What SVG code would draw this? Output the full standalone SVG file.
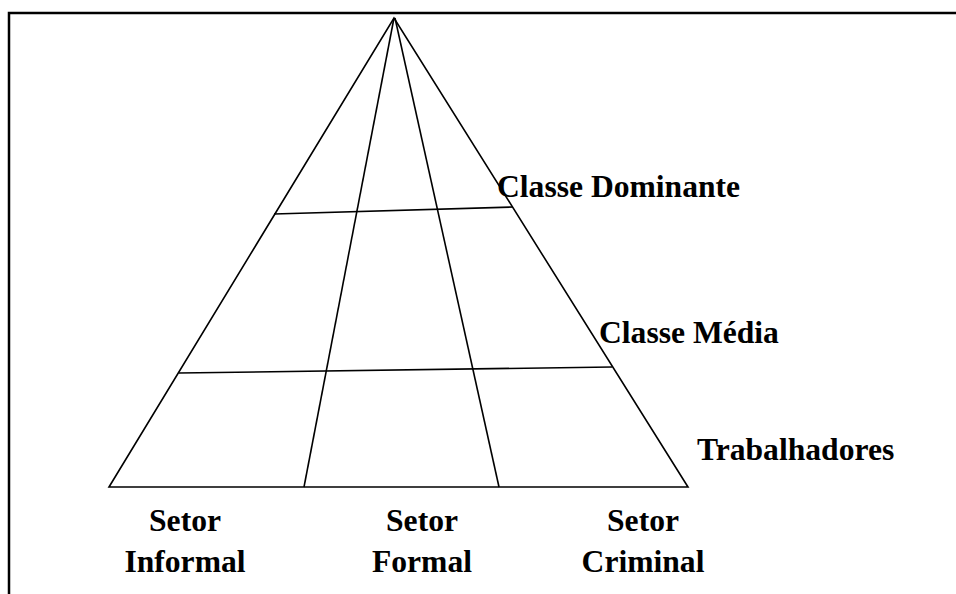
<svg xmlns="http://www.w3.org/2000/svg" width="956" height="594" viewBox="0 0 956 594">
<style>
.ln{stroke:#000;stroke-width:1.6;fill:none}
.t{font-family:"Liberation Serif","Times New Roman",serif;font-weight:bold;font-size:31.6px;fill:#000}
.c{text-anchor:middle}
</style>
<rect width="956" height="594" fill="#fff"/>
<path d="M9,600 V13 H960" stroke="#000" stroke-width="2.5" fill="none"/>
<g id="pyramid">
<path class="ln" d="M109,487 L394,18 L688,487 Z"/>
<path class="ln" d="M394,18 L304,487"/>
<path class="ln" d="M395,18 L499,487"/>
<path class="ln" d="M274,214 L513,207"/>
<path class="ln" d="M179,373 L612,367"/>
</g>
<g id="labels">
<text class="t" x="497" y="197">Classe Dominante</text>
<text class="t" x="599" y="343">Classe Média</text>
<text class="t" x="697" y="460">Trabalhadores</text>
<text class="t c" x="185" y="531">Setor</text>
<text class="t c" x="185" y="572">Informal</text>
<text class="t c" x="422" y="531">Setor</text>
<text class="t c" x="422" y="572">Formal</text>
<text class="t c" x="643" y="531">Setor</text>
<text class="t c" x="643" y="572">Criminal</text>
</g>
</svg>
